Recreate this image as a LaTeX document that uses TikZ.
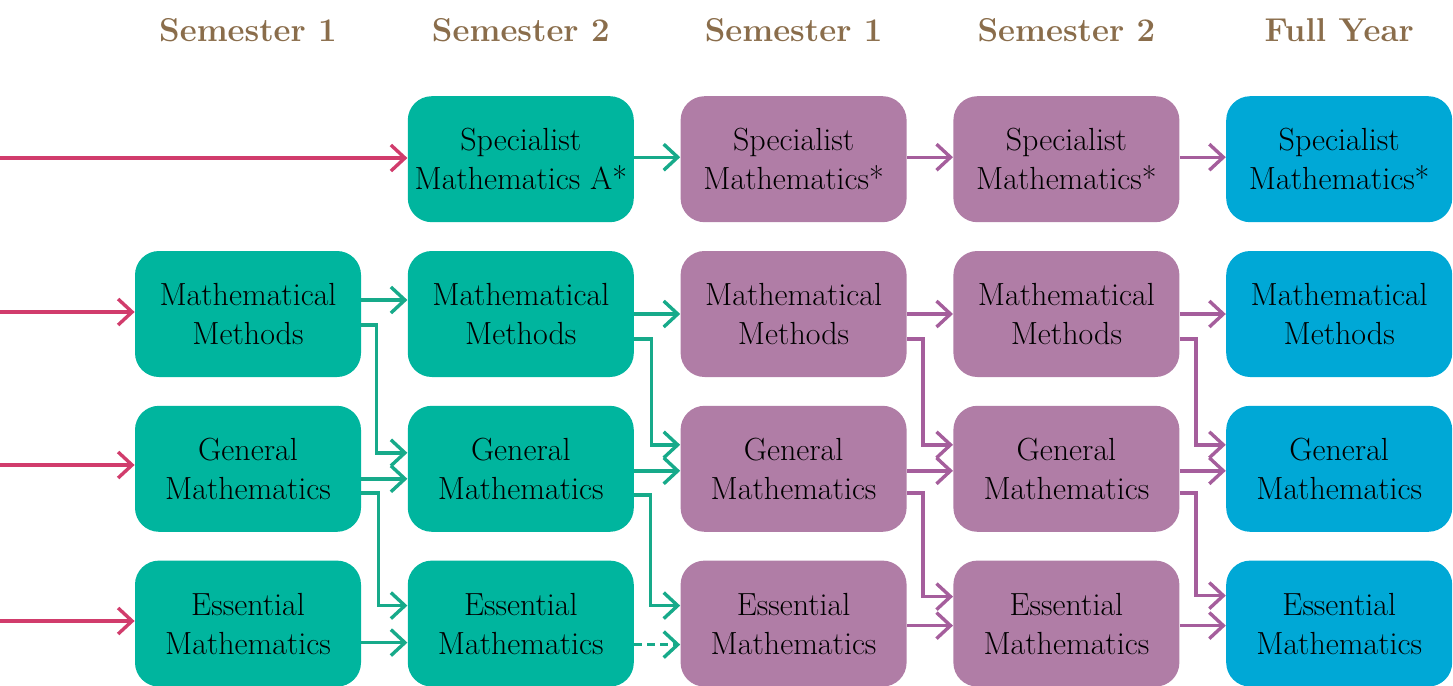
\documentclass[tikz,border=0pt]{standalone}
\usetikzlibrary{positioning,arrows.meta}
\definecolor{tealbox}{HTML}{00B59E}
\definecolor{purplebox}{HTML}{B07DA6}
\definecolor{bluebox}{HTML}{00A8D6}
\definecolor{tealline}{HTML}{17AA8A}
\definecolor{purpleline}{HTML}{A55E9C}
\definecolor{pinkline}{HTML}{D13C6C}
\definecolor{headbrown}{HTML}{8A6D4B}
\begin{document}
\begin{tikzpicture}[x=0.5pt,y=-0.5pt,node distance=14pt and 23pt,
	course/.style={rounded corners=12pt,minimum width=113pt,minimum height=63pt,inner sep=2pt,align=center,font=\fontsize{16}{19.5}\selectfont},
	yrA/.style={course,fill=tealbox},
	yrB/.style={course,fill=purplebox},
	yrC/.style={course,fill=bluebox},
	head/.style={font=\fontsize{16.5}{19}\selectfont\bfseries,text=headbrown},
	arr/.style={-{Straight Barb[length=7pt,width=13pt]},line width=1.7pt}]
	\useasboundingbox (0,0) rectangle (1453,686);
	% year 11, semester 1
	\node[yrA] (mmA) at (248,314) {Mathematical\\Methods};
	\node[yrA,below=of mmA] (gmA) {General\\Mathematics};
	\node[yrA,below=of gmA] (emA) {Essential\\Mathematics};
	% year 11, semester 2
	\node[yrA,right=of mmA] (mmB) {Mathematical\\Methods};
	\node[yrA,above=of mmB] (smB) {Specialist\\Mathematics A*};
	\node[yrA,below=of mmB] (gmB) {General\\Mathematics};
	\node[yrA,below=of gmB] (emB) {Essential\\Mathematics};
	% year 12, semester 1
	\node[yrB,right=of mmB] (mmC) {Mathematical\\Methods};
	\node[yrB,above=of mmC] (smC) {Specialist\\Mathematics*};
	\node[yrB,below=of mmC] (gmC) {General\\Mathematics};
	\node[yrB,below=of gmC] (emC) {Essential\\Mathematics};
	% year 12, semester 2
	\node[yrB,right=of mmC] (mmD) {Mathematical\\Methods};
	\node[yrB,above=of mmD] (smD) {Specialist\\Mathematics*};
	\node[yrB,below=of mmD] (gmD) {General\\Mathematics};
	\node[yrB,below=of gmD] (emD) {Essential\\Mathematics};
	% full year
	\node[yrC,right=of mmD] (mmE) {Mathematical\\Methods};
	\node[yrC,above=of mmE] (smE) {Specialist\\Mathematics*};
	\node[yrC,below=of mmE] (gmE) {General\\Mathematics};
	\node[yrC,below=of gmE] (emE) {Essential\\Mathematics};
	% headings
	\node[head] (hA) at (mmA |- 0,30) {Semester 1};
	\node[head] (hB) at (mmB |- 0,30) {Semester 2};
	\node[head] (hC) at (mmC |- 0,30) {Semester 1};
	\node[head] (hD) at (mmD |- 0,30) {Semester 2};
	\node[head] (hE) at (mmE |- 0,30) {Full Year};
	% entry arrows
	\coordinate (inS) at (0,158);
	\coordinate (inM) at (0,312);
	\coordinate (inG) at (0,465);
	\coordinate (inE) at (0,621);
	\draw[arr,pinkline] (inS) -- (inS -| smB.west);
	\draw[arr,pinkline] (inM) -- (inM -| mmA.west);
	\draw[arr,pinkline] (inG) -- (inG -| gmA.west);
	\draw[arr,pinkline] (inE) -- (inE -| emA.west);
	% semester 1 -> semester 2
	\draw[arr,tealline] ([yshift=7pt]mmA.east) -- ([yshift=7pt]mmB.west);
	\draw[arr,tealline] ([yshift=-5.5pt]mmA.east) -- ++(7.5pt,0) |- ([yshift=8pt]gmB.west);
	\draw[arr,tealline] ([yshift=-5pt]gmA.east) -- ([yshift=-5pt]gmB.west);
	\draw[arr,tealline] ([yshift=-12pt]gmA.east) -- ++(8.5pt,0) |- ([yshift=9pt]emB.west);
	\draw[arr,tealline] ([yshift=-9.5pt]emA.east) -- ([yshift=-9.5pt]emB.west);
	% year 11 -> year 12
	\draw[arr,tealline] ([yshift=1pt]smB.east) -- ([yshift=1pt]smC.west);
	\draw[arr,tealline] (mmB.east) -- (mmC.west);
	\draw[arr,tealline] ([yshift=-12.5pt]mmB.east) -- ++(8.5pt,0) |- ([yshift=12pt]gmC.west);
	\draw[arr,tealline] ([yshift=-1pt]gmB.east) -- ([yshift=-1pt]gmC.west);
	\draw[arr,tealline] ([yshift=-13pt]gmB.east) -- ++(8pt,0) |- ([yshift=9pt]emC.west);
	\draw[arr,tealline,dash pattern=on 4pt off 2.5pt] ([yshift=-10.5pt]emB.east) -- ([yshift=-10.5pt]emC.west);
	% semester 1 -> semester 2
	\draw[arr,purpleline] ([yshift=1pt]smC.east) -- ([yshift=1pt]smD.west);
	\draw[arr,purpleline] (mmC.east) -- (mmD.west);
	\draw[arr,purpleline] ([yshift=-12.5pt]mmC.east) -- ++(8pt,0) |- ([yshift=12pt]gmD.west);
	\draw[arr,purpleline] ([yshift=-1pt]gmC.east) -- ([yshift=-1pt]gmD.west);
	\draw[arr,purpleline] ([yshift=-12pt]gmC.east) -- ++(8pt,0) |- ([yshift=13.5pt]emD.west);
	\draw[arr,purpleline] ([yshift=-1pt]emC.east) -- ([yshift=-1pt]emD.west);
	% semester 2 -> full year
	\draw[arr,purpleline] ([yshift=1pt]smD.east) -- ([yshift=1pt]smE.west);
	\draw[arr,purpleline] (mmD.east) -- (mmE.west);
	\draw[arr,purpleline] ([yshift=-12.5pt]mmD.east) -- ++(8pt,0) |- ([yshift=12pt]gmE.west);
	\draw[arr,purpleline] ([yshift=-1pt]gmD.east) -- ([yshift=-1pt]gmE.west);
	\draw[arr,purpleline] ([yshift=-12pt]gmD.east) -- ++(8pt,0) |- ([yshift=14pt]emE.west);
	\draw[arr,purpleline] ([yshift=-1pt]emD.east) -- ([yshift=-1pt]emE.west);
\end{tikzpicture}
\end{document}
